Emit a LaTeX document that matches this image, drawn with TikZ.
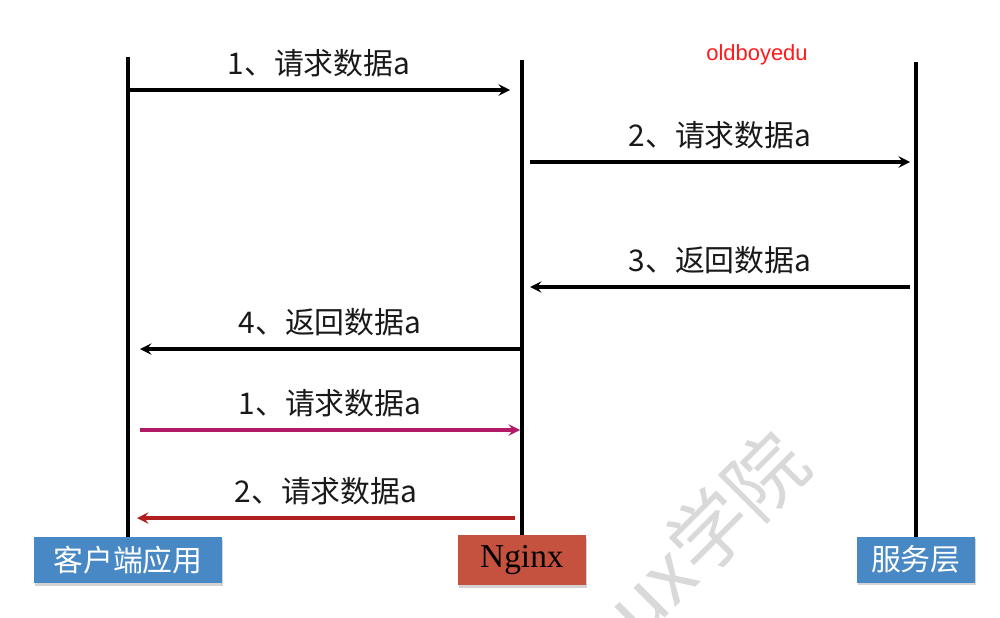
\documentclass[tikz,border=0pt]{standalone}
\usepackage{fontspec}
\setmainfont{Liberation Serif}
\newfontfamily\cjkfont{Noto Sans CJK SC}
\newfontfamily\latinsans{Liberation Sans}
\usetikzlibrary{arrows, shadows}
\definecolor{roleblue}{RGB}{72,136,196}
\definecolor{nginxred}{RGB}{196,82,62}
\definecolor{reqpink}{RGB}{178,26,104}
\definecolor{retred}{RGB}{176,30,30}
\tikzstyle{role} = [rectangle, minimum height=0.92cm, text centered, fill=roleblue, text=white, font=\cjkfont\fontsize{17}{20}\selectfont, drop shadow={shadow xshift=0.6pt, shadow yshift=-1.5pt, opacity=0.35}]
\tikzstyle{proxy} = [rectangle, minimum width=2.56cm, minimum height=1cm, text centered, fill=nginxred, text=black, font=\fontsize{19}{22}\selectfont, drop shadow={shadow xshift=0.6pt, shadow yshift=-1.5pt, opacity=0.35}]
\tikzstyle{lifeline} = [line width=2pt]
\tikzstyle{arrow} = [line width=1.8pt,->,>=stealth]
\tikzstyle{msg} = [font=\cjkfont\fontsize{17}{20}\selectfont, text=black!90, above=3pt]

\begin{document}
\begin{tikzpicture}[x=0.02cm, y=-0.02cm, node distance=7.88cm]

\useasboundingbox (0,0) rectangle (1000,618);

% Watermark
\begin{scope}
\clip (0,0) rectangle (1000,618);
\node [rotate=45, anchor=east, inner sep=0, text=gray!30, font=\cjkfont\fontsize{45}{50}\selectfont] (mark) at (793,447) {Linux学院};
\end{scope}
\node [text=red!90, font=\latinsans\fontsize{12.5}{15}\selectfont] (brand) at (757,55) {oldboyedu};

% Lifeline tops
\coordinate (ctop) at (128,57);
\coordinate (ntop) at (522,60);
\coordinate (stop) at (916,62);

% Message ends
\coordinate (m1s) at (128,90);  \coordinate (m1e) at (510,90);
\coordinate (m2s) at (530,162); \coordinate (m2e) at (910,162);
\coordinate (m3s) at (910,287); \coordinate (m3e) at (530,287);
\coordinate (m4s) at (520,349); \coordinate (m4e) at (140,349);
\coordinate (m5s) at (140,430); \coordinate (m5e) at (520,430);
\coordinate (m6s) at (515,518); \coordinate (m6e) at (137,518);

% Lifelines
\draw [lifeline] (ctop) -- (128,545);
\draw [lifeline] (ntop) -- (522,545);
\draw [lifeline] (stop) -- (916,545);

% Nodes
\node (client) [role, minimum width=3.76cm] at (128,560) {客户端应用};
\node (nginx) [proxy, right of=client] {Nginx};
\node (server) [role, minimum width=2.36cm, right of=nginx, yshift=0.01cm] {服务层};

% Arrows
\draw [arrow] (m1s) -- (m1e) node[midway, msg] {1、请求数据a};
\draw [arrow] (m2s) -- (m2e) node[midway, msg] {2、请求数据a};
\draw [arrow] (m3s) -- (m3e) node[midway, msg] {3、返回数据a};
\draw [arrow] (m4s) -- (m4e) node[midway, msg] {4、返回数据a};
\draw [arrow, reqpink] (m5s) -- (m5e) node[midway, msg] {1、请求数据a};
\draw [arrow, retred] (m6s) -- (m6e) node[midway, msg] {2、请求数据a};

\end{tikzpicture}
\end{document}
